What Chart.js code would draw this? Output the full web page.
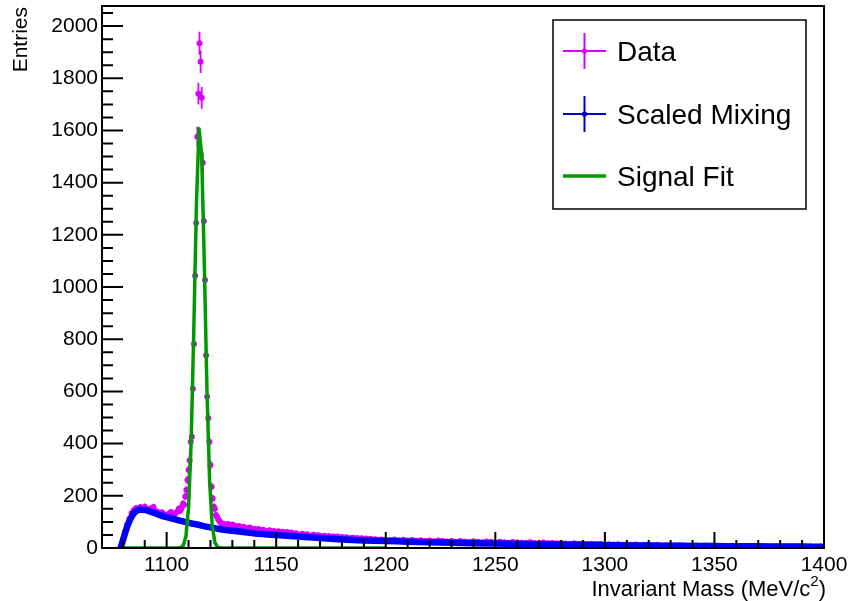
<!DOCTYPE html>
<html>
<head>
<meta charset="utf-8">
<script src="https://cdn.jsdelivr.net/npm/chart.js@4.4.1/dist/chart.umd.min.js"></script>
<style>
html,body{margin:0;padding:0;background:#fff;}
#wrap{width:854px;height:601px;}
</style>
</head>
<body>
<div id="wrap"><canvas id="mass-chart" width="854" height="601"></canvas></div>
<script>
const FONT='"Liberation Sans", Arial, Helvetica, sans-serif';
const MAG='#d800ff', BLUE='#0000ff', GREEN='#009900';

const xTickLabels=[1100,1150,1200,1250,1300,1350,1400];
const yTickLabels=[0,200,400,600,800,1000,1200,1400,1600,1800,2000];

// Data histogram (bin centres, MeV/c^2) and entries
const dataMassLow=[1079,1080,1081,1082,1083,1084,1085,1086,1087,1088,1089,1090,1091,1092,1093,1094,1095,1096,1097,1098,1099,1100,1101,1102,1103,1104,1105];
const dataEntriesLow=[2,30,62,90,112,133,145,152,150,156,151,158,150,146,152,157,142,138,133,136,128,126,131,138,127,133,141];
const dataMassPeak=[1105.5,1106,1106.5,1107,1107.5,1108,1108.5,1109,1109.5,1110,1110.5,1111,1111.5,1112,1112.5,1113,1113.5,1114,1114.5,1115,1115.5,1116,1116.5,1117,1117.5,1118,1118.5,1119,1119.5,1120,1120.5,1121,1121.5,1122,1122.5,1123,1123.5,1124,1124.5,1125];
const dataEntriesPeak=[150,142,148,158,170,166,197,222,261,299,335,407,426,610,782,1043,1245,1576,1741,1934,1863,1725,1476,1253,1027,739,580,497,407,318,235,190,158,150,126,120,110,104,99,95];
const dataMassMid=[1126,1127,1128,1129,1130,1131,1132,1133,1134,1135,1136,1137,1138,1139,1140,1141,1142,1143,1144,1145,1146,1147,1148,1149,1150,1151,1152,1153,1154,1155,1156,1157,1158,1159,1160,1161,1162,1163,1164,1165,1166,1167,1168,1169,1170,1171,1172,1173,1174,1175,1176,1177,1178,1179,1180,1181,1182,1183,1184,1185,1186,1187,1188,1189,1190,1191,1192,1193,1194,1195,1196,1197,1198,1199,1200];
const dataEntriesMid=[93,87,92,84,90,85,80,84,77,81,78,73,79,70,74,69,73,66,70,64,65,68,61,65,60,64,58,62,57,61,56,59,53,57,52,50,55,49,53,48,47,51,45,49,47,43,47,42,46,41,44,40,44,39,42,38,41,37,37,39,35,38,34,37,33,36,32,35,31,34,32,30,33,29,32];
const dataMassTail=[1202,1204,1206,1208,1210,1212,1214,1216,1218,1220,1222,1224,1226,1228,1230,1232,1234,1236,1238,1240,1242,1244,1246,1248,1250,1252,1254,1256,1258,1260,1262,1264,1266,1268,1270,1272,1274,1276,1278,1280,1282,1284,1286,1288,1290,1292,1294,1296,1298,1300,1302,1304,1306,1308,1310,1312,1314,1316,1318,1320,1322,1324,1326,1328,1330,1332,1334,1336,1338,1340,1342,1344,1346,1348,1350,1352,1354,1356,1358,1360,1362,1364,1366,1368,1370,1372,1374,1376,1378,1380,1382,1384,1386,1388,1390,1392,1394,1396,1398,1400];
const dataEntriesTail=[31,33,30,32,29,31,28,30,27,29,26,29,27,25,27,24,27,25,23,26,24,22,25,24,21,24,22,20,23,21,20,19,22,19,18,21,18,19,17,19,17,16,18,16,17,15,16,15,16,14,14,13,14,12,13,12,13,11,12,12,11,12,10,11,11,10,11,10,9,10,10,9,10,9,9,8,9,8,9,8,8,7,8,7,8,7,7,6,7,7,6,7,6,6,5,6,6,5,6,5];

// Scaled mixed-event background
const mixMass=[1079,1080,1081,1082,1083,1084,1085,1086,1087,1088,1089,1090,1091,1092,1093,1094,1095,1096,1097,1098,1099,1100,
  1102,1104,1106,1108,1110,1112,1114,1116,1118,1120,1122,1124,1126,1128,1130,1132,1134,1136,1138,1140,1142,1144,1146,1148,1150,
  1155,1160,1165,1170,1175,1180,1185,1190,1195,1200,1205,1210,1215,1220,1225,1230,1235,1240,1245,1250,1255,1260,1265,1270,1275,1280,1285,1290,1295,1300,1305,1310,1315,1320,1325,1330,1335,1340,1345,1350,1355,1360,1365,1370,1375,1380,1385,1390,1395,1400];
const mixEntries=[0,28,56,82,103,120,133,141,145,147,147,146,144,141,138,135,132,129,126,123,120,118,
  114,110,105,101,97,93,90,86,82,79,76,73,70,68,66,64,62,60,58,56,55,54,52,51,50,
  47,44,41,38,35.5,33,31,29,28,27,25.5,24,23,22,21,20,19,18.5,17.5,17,16,15.5,15,14.5,14,13,12.5,12,11.5,11,10.5,10,10,9.5,9,9,8.5,8,8,7.5,7,7,6.5,6.5,6,6,5.5,5.5,5,5];

// Signal fit curve
const fitMass=[1080,1104.0,1105.2,1106.4,1107.6,1108.8,1110.0,1111.2,1112.4,1113.6,1114.8,1116.0,1117.2,1118.4,1119.6,1120.8,1122.0,1123.2,1124.4,1125.6,1126.8,1200];
const fitEntries=[0,0,0.2,1.7,10,44.5,154,409,837,1321,1607,1505,1087,604,259,85.5,21.8,4.3,0.6,0.05,0,0];

const dataMass=[...dataMassLow,...dataMassPeak,...dataMassMid,...dataMassTail];
const dataEntries=[...dataEntriesLow,...dataEntriesPeak,...dataEntriesMid,...dataEntriesTail];

const toXY=(xs,ys)=>xs.map((x,i)=>({x,y:ys[i]}));

const rootStyle={
  id:'rootStyle',
  beforeDatasetDraw(chart,args){
    if(chart.data.datasets[args.index].label!=='Data') return;
    const ctx=chart.ctx, a=chart.chartArea, xs=chart.scales.x, ys=chart.scales.y;
    ctx.save();
    ctx.beginPath(); ctx.rect(a.left,a.top,a.right-a.left,a.bottom-a.top); ctx.clip();
    ctx.strokeStyle=MAG; ctx.lineWidth=1.8;
    ctx.beginPath();
    dataMass.forEach((m,i)=>{
      const v=dataEntries[i], e=Math.sqrt(v), px=xs.getPixelForValue(m);
      ctx.moveTo(px,ys.getPixelForValue(v-e)); ctx.lineTo(px,ys.getPixelForValue(v+e));
    });
    ctx.stroke();
    ctx.restore();
  },
  afterDraw(chart){
    const ctx=chart.ctx, a=chart.chartArea, xs=chart.scales.x, ys=chart.scales.y;
    ctx.save();
    // frame
    ctx.strokeStyle='#000'; ctx.lineWidth=2;
    ctx.strokeRect(a.left,a.top,a.right-a.left,a.bottom-a.top);
    // ticks inside the frame
    ctx.beginPath();
    for(let v=1080;v<1400;v+=10){
      const px=xs.getPixelForValue(v), len=xTickLabels.includes(v)?16:8;
      ctx.moveTo(px,a.bottom); ctx.lineTo(px,a.bottom-len);
    }
    for(let v=0;v<=2050;v+=50){
      const py=ys.getPixelForValue(v), len=yTickLabels.includes(v)?21:11;
      ctx.moveTo(a.left,py); ctx.lineTo(a.left+len,py);
    }
    ctx.stroke();
    // axis titles
    ctx.fillStyle='#000';
    ctx.font='22px '+FONT;
    ctx.textBaseline='alphabetic';
    ctx.textAlign='right';
    const supW=ctx.measureText(')').width;
    ctx.fillText(')',a.right+2,596);
    ctx.font='15px '+FONT;
    const twoW=ctx.measureText('2').width;
    ctx.fillText('2',a.right+2-supW,586);
    ctx.font='22px '+FONT;
    ctx.fillText('Invariant Mass (MeV/c',a.right+2-supW-twoW,596);
    ctx.font='21px '+FONT;
    ctx.save();
    ctx.translate(21,7); ctx.rotate(-Math.PI/2);
    ctx.textAlign='right'; ctx.textBaseline='middle';
    ctx.fillText('Entries',0,0);
    ctx.restore();
    // legend
    const bx=553, by=20, bw=253, bh=189;
    ctx.fillStyle='#fff'; ctx.fillRect(bx,by,bw,bh);
    ctx.strokeStyle='#000'; ctx.lineWidth=1.5; ctx.strokeRect(bx,by,bw,bh);
    const rows=[
      {ds:chart.data.datasets[2],y:51,cross:true,col:MAG},
      {ds:chart.data.datasets[1],y:114,cross:true,col:'#0000cc'},
      {ds:chart.data.datasets[0],y:176,cross:false,col:GREEN}
    ];
    rows.forEach(r=>{
      ctx.strokeStyle=r.col;
      if(r.cross){
        ctx.lineWidth=2;
        ctx.beginPath();
        ctx.moveTo(563,r.y); ctx.lineTo(606,r.y);
        ctx.moveTo(584.5,r.y-18); ctx.lineTo(584.5,r.y+18);
        ctx.stroke();
        ctx.fillStyle=r.col; ctx.beginPath(); ctx.arc(584.5,r.y,2.6,0,Math.PI*2); ctx.fill();
      }else{
        ctx.lineWidth=3.5;
        ctx.beginPath(); ctx.moveTo(563,r.y); ctx.lineTo(606,r.y); ctx.stroke();
      }
      ctx.fillStyle='#000'; ctx.font='28px '+FONT;
      ctx.textAlign='left'; ctx.textBaseline='middle';
      ctx.fillText(r.ds.label,617,r.y+2);
    });
    ctx.restore();
  }
};

new Chart(document.getElementById('mass-chart').getContext('2d'),{
  type:'scatter',
  data:{datasets:[
    {label:'Signal Fit',data:toXY(fitMass,fitEntries),showLine:true,borderColor:GREEN,borderWidth:3.5,
      pointRadius:0,tension:0,borderJoinStyle:'round',order:1},
    {label:'Scaled Mixing',data:toXY(mixMass,mixEntries),showLine:true,borderColor:BLUE,borderWidth:6.5,
      pointRadius:0,tension:0,borderJoinStyle:'round',borderCapStyle:'round',order:2},
    {label:'Data',data:toXY(dataMass,dataEntries),showLine:false,pointRadius:3,
      pointBackgroundColor:MAG,pointBorderWidth:0,order:3}
  ]},
  options:{
    responsive:false,animation:false,devicePixelRatio:1,
    layout:{padding:{top:6,right:30,left:0,bottom:0}},
    plugins:{legend:{display:false},tooltip:{enabled:false}},
    scales:{
      x:{type:'linear',min:1070.5,max:1400,
        grid:{display:false,drawTicks:false},border:{display:false},
        afterBuildTicks:s=>{s.ticks=xTickLabels.map(v=>({value:v}));},
        ticks:{font:{family:FONT,size:21},color:'#000',padding:5,maxRotation:0,autoSkip:false,callback:v=>String(v)},
        afterFit:s=>{s.height=53;s.paddingLeft=0;s.paddingRight=0;}},
      y:{type:'linear',min:0,max:2077,
        grid:{display:false,drawTicks:false},border:{display:false},
        afterBuildTicks:s=>{s.ticks=yTickLabels.map(v=>({value:v}));},
        ticks:{font:{family:FONT,size:21},color:'#000',padding:4,autoSkip:false,callback:v=>String(v)},
        afterFit:s=>{s.width=102;s.paddingTop=0;s.paddingBottom=0;}}
    }
  },
  plugins:[rootStyle]
});
</script>
</body>
</html>
